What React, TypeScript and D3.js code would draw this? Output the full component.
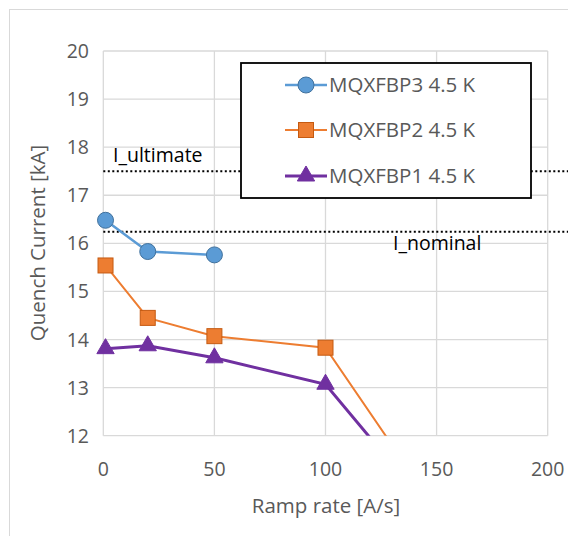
import React from "react";
import * as d3 from "d3";

const xTicks = [0, 50, 100, 150, 200];
const yTicks = [12, 13, 14, 15, 16, 17, 18, 19, 20];

const p3x = [1, 20, 50];
const p3y = [16.48, 15.83, 15.76];
const p2x = [1, 20, 50, 100, 150];
const p2y = [15.54, 14.45, 14.07, 13.83, 10.45];
const p1x = [1, 20, 50, 100, 150];
const p1y = [13.81, 13.87, 13.62, 13.07, 10.3];

const iUltimate = 17.5;
const iNominal = 16.24;

const seriesNames = ["MQXFBP3 4.5 K", "MQXFBP2 4.5 K", "MQXFBP1 4.5 K"];

const W = 568, H = 536;
const font = "'Open Sans', 'Liberation Sans', sans-serif";

export default function App() {
  const x = d3.scaleLinear().domain([0, 200]).range([103.3, 547.7]);
  const y = d3.scaleLinear().domain([12, 20]).range([435.7, 51]);
  const line = d3.line<[number, number]>().x(d => x(d[0])).y(d => y(d[1]));
  const zip = (a: number[], b: number[]) => a.map((v, i) => [v, b[i]] as [number, number]);
  const s3 = zip(p3x, p3y), s2 = zip(p2x, p2y), s1 = zip(p1x, p1y);
  const tri = d3.symbol().type(d3.symbolTriangle).size(130)();

  const legendY = [85, 130, 176];
  const gray = "#595959";

  return (
    <svg width={W} height={H} style={{ position: "absolute", left: 0, top: 0, background: "#fff" }}>
      <defs>
        <clipPath id="plot">
          <rect x={x(0)} y={y(20)} width={x(200) - x(0)} height={y(12) - y(20)} />
        </clipPath>
      </defs>
      <rect x={9.5} y={9.5} width={620} height={620} fill="#fff" stroke="#d9d9d9" strokeWidth={1} />
      {yTicks.map(t => (
        <line key={"gy" + t} x1={x(0)} x2={x(200)} y1={y(t)} y2={y(t)} stroke="#d9d9d9" strokeWidth={1.3} />
      ))}
      {xTicks.map(t => (
        <line key={"gx" + t} x1={x(t)} x2={x(t)} y1={y(20)} y2={y(12)} stroke="#d9d9d9" strokeWidth={1.3} />
      ))}
      {yTicks.map(t => (
        <text key={"ty" + t} x={89} y={y(t)} dy="0.36em" textAnchor="end" fontFamily={font} fontSize={19.5} fill={gray}>{t}</text>
      ))}
      {xTicks.map(t => (
        <text key={"tx" + t} x={x(t)} y={469} dy="0.36em" textAnchor="middle" fontFamily={font} fontSize={19.5} fill={gray}>{t}</text>
      ))}
      <text x={326} y={506} dy="0.36em" textAnchor="middle" fontFamily={font} fontSize={20.5} fill={gray}>Ramp rate [A/s]</text>
      <text transform={`translate(38,243) rotate(-90)`} textAnchor="middle" dy="0.36em" fontFamily={font} fontSize={20.5} fill={gray}>Quench Current [kA]</text>

      <line x1={x(0)} x2={568} y1={y(iUltimate)} y2={y(iUltimate)} stroke="#000" strokeWidth={2} strokeDasharray="2,2.5" />
      <line x1={x(0)} x2={568} y1={y(iNominal)} y2={y(iNominal)} stroke="#000" strokeWidth={2} strokeDasharray="2,2.5" />
      <text x={113} y={162} fontFamily={font} fontSize={19.5} fill="#000">I_ultimate</text>
      <text x={393} y={250} fontFamily={font} fontSize={19.5} fill="#000">I_nominal</text>

      <g clipPath="url(#plot)">
        <path d={line(s2) || ""} fill="none" stroke="#ED7D31" strokeWidth={2} />
        <path d={line(s1) || ""} fill="none" stroke="#7030A0" strokeWidth={3} />
        <path d={line(s3) || ""} fill="none" stroke="#5B9BD5" strokeWidth={2.5} />
      </g>
      {s3.map((d, i) => (
        <circle key={"c" + i} cx={x(d[0])} cy={y(d[1])} r={8} fill="#5B9BD5" stroke="#41719C" strokeWidth={1} />
      ))}
      {s2.filter(d => d[1] >= 12).map((d, i) => (
        <rect key={"s" + i} x={x(d[0]) - 7.5} y={y(d[1]) - 7.5} width={15} height={15} fill="#ED7D31" stroke="#C55A11" strokeWidth={1} />
      ))}
      {s1.filter(d => d[1] >= 12).map((d, i) => (
        <path key={"t" + i} d={tri || ""} transform={`translate(${x(d[0])},${y(d[1])})`} fill="#7030A0" stroke="#7030A0" strokeWidth={1} />
      ))}

      <rect x={241} y={63} width={290} height={135} fill="#fff" stroke="#000" strokeWidth={1.8} />
      {seriesNames.map((n, i) => (
        <g key={"l" + i}>
          <line x1={285} x2={327} y1={legendY[i]} y2={legendY[i]}
            stroke={["#5B9BD5", "#ED7D31", "#7030A0"][i]} strokeWidth={[2.5, 2, 3][i]} />
          {i === 0 && <circle cx={306} cy={legendY[i]} r={8} fill="#5B9BD5" stroke="#41719C" strokeWidth={1} />}
          {i === 1 && <rect x={298.5} y={legendY[i] - 7.5} width={15} height={15} fill="#ED7D31" stroke="#C55A11" strokeWidth={1} />}
          {i === 2 && <path d={tri || ""} transform={`translate(306,${legendY[i]})`} fill="#7030A0" stroke="#7030A0" />}
          <text x={329} y={legendY[i]} dy="0.36em" fontFamily={font} fontSize={20.5} fill={gray}>{n}</text>
        </g>
      ))}
    </svg>
  );
}
